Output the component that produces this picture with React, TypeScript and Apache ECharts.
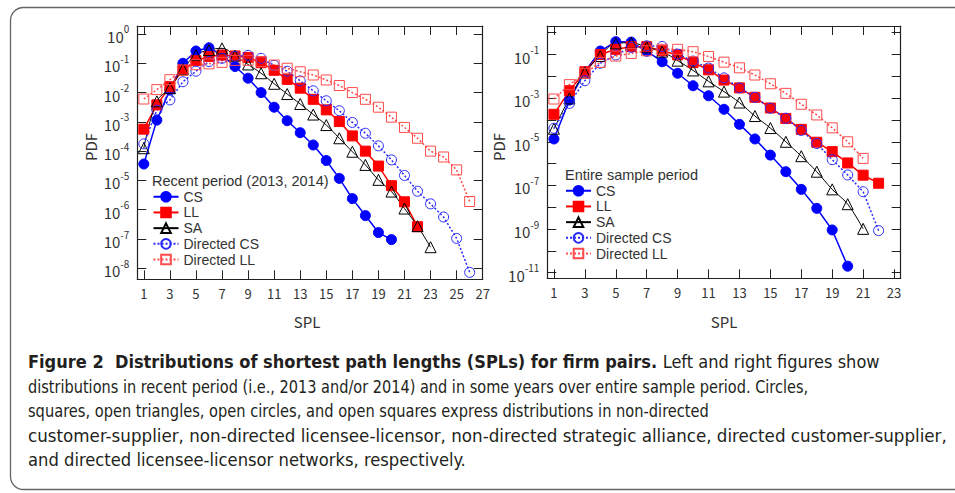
import React, { useEffect, useRef } from "react";
import * as echarts from "echarts";

// ---- data: log10(PDF), SPL = 1, 2, 3, ... ----
const recentCS = [-4.44, -2.94, -1.91, -1.0, -0.58, -0.47, -0.72, -1.11, -1.51, -2.0, -2.5, -2.96, -3.37, -3.79, -4.32, -4.93, -5.62, -6.2, -6.78, -7.02];
const recentLL = [-3.25, -2.42, -1.8, -1.23, -0.91, -0.77, -0.72, -0.75, -0.8, -0.98, -1.24, -1.55, -1.85, -2.23, -2.59, -2.99, -3.48, -4.0, -4.51, -5.18, -5.73, -6.58];
const recentSA = [-3.9, -2.3, -1.85, -1.2, -0.72, -0.55, -0.49, -0.74, -1.04, -1.34, -1.7, -2.05, -2.39, -2.75, -3.11, -3.56, -4.02, -4.47, -4.98, -5.38, -5.96, -6.56, -7.28];
const recentDCS = [-3.75, -2.6, -2.25, -1.63, -1.27, -0.94, -0.83, -0.76, -0.73, -0.83, -1.07, -1.27, -1.6, -1.94, -2.28, -2.62, -3.02, -3.39, -3.82, -4.3, -4.83, -5.37, -5.8, -6.25, -6.98, -8.14];
const recentDLL = [-2.22, -1.9, -1.56, -1.23, -1.05, -1.02, -0.97, -0.9, -0.9, -0.94, -1.06, -1.17, -1.29, -1.4, -1.57, -1.76, -2.0, -2.23, -2.5, -2.84, -3.19, -3.56, -4.0, -4.2, -4.64, -5.72];

const entireCS = [-4.87, -3.09, -1.79, -0.84, -0.41, -0.43, -0.85, -1.33, -1.86, -2.43, -2.89, -3.51, -4.2, -4.87, -5.61, -6.37, -7.18, -8.05, -9.04, -10.7];
const entireLL = [-3.74, -2.66, -1.79, -1.0, -0.76, -0.64, -0.64, -0.83, -1.02, -1.37, -1.7, -2.17, -2.53, -2.96, -3.45, -3.93, -4.43, -5.02, -5.45, -5.97, -6.53, -6.9];
const entireSA = [-4.4, -3.01, -1.83, -1.07, -0.49, -0.46, -0.67, -0.87, -1.28, -1.73, -2.23, -2.7, -3.2, -3.82, -4.37, -5.0, -5.66, -6.37, -7.18, -7.86, -8.99];
const entireDCS = [-4.38, -3.24, -2.2, -1.4, -1.02, -0.67, -0.6, -0.63, -0.98, -1.3, -1.62, -2.07, -2.53, -2.96, -3.46, -3.92, -4.48, -5.08, -5.82, -6.52, -7.29, -9.07];
const entireDLL = [-3.04, -2.38, -1.86, -1.36, -1.07, -0.95, -0.83, -0.76, -0.76, -0.87, -1.09, -1.35, -1.61, -1.94, -2.34, -2.78, -3.28, -3.77, -4.36, -5.0, -5.76];

const seriesNames = ["CS", "LL", "SA", "Directed CS", "Directed LL"];

const leftXTicks = [1, 3, 5, 7, 9, 11, 13, 15, 17, 19, 21, 23, 25, 27];
const rightXTicks = [1, 3, 5, 7, 9, 11, 13, 15, 17, 19, 21, 23];
const leftYTicks = [0, -1, -2, -3, -4, -5, -6, -7, -8];
const leftYLabels = [0, -1, -2, -3, -4, -5, -6, -7, -8];
const rightYTicks = [0, -1, -2, -3, -4, -5, -6, -7, -8, -9, -10, -11];
const rightYLabels = [-1, -3, -5, -7, -9, -11];

const leftTitle = "Recent period (2013, 2014)";
const rightTitle = "Entire sample period";

const captionBold = "Figure 2\u00a0\u00a0Distributions of shortest path lengths (SPLs) for firm pairs.";
const captionLines = [
  " Left and right figures show",
  "distributions in recent period (i.e., 2013 and/or 2014) and in some years over entire sample period. Circles,",
  "squares, open triangles, open circles, and open squares express distributions in non-directed",
  "customer-supplier, non-directed licensee-licensor, non-directed strategic alliance, directed customer-supplier,",
  "and directed licensee-licensor networks, respectively.",
];
const captionEnds = [880, 808, 710, 947, 466];
const captionYs = [362, 386.5, 411, 435.5, 460];

const FONT = '"Noto Sans CJK JP", "Noto Sans", sans-serif';
const LEG_FONT = '"Liberation Sans", Arial, sans-serif';
const CAP_CANDIDATES = ['"DejaVu Sans Condensed"', '"Liberation Sans Narrow"', '"Noto Sans"', '"Open Sans"', "Lato", "Roboto", "Inter", '"Liberation Sans"'];
const TXT = "#333";

const styleOf: Record<string, any> = {
  CS: { symbol: "circle", size: 10, line: "#0000ff", fill: "#0000ff", border: "#0000ff", type: "solid", width: 1.5, smooth: false },
  LL: { symbol: "rect", size: 10, line: "#ff0000", fill: "#ff0000", border: "#ff0000", type: "solid", width: 1.5, smooth: false },
  SA: { symbol: "triangle", size: 11, line: "#000000", fill: "rgba(0,0,0,0)", border: "#000000", type: "solid", width: 1, smooth: 0.4 },
  "Directed CS": { symbol: "circle", size: 10, line: "#2a2aff", fill: "rgba(0,0,0,0)", border: "#2a2aff", type: [2, 2], width: 1.5, smooth: false },
  "Directed LL": { symbol: "rect", size: 10, line: "#ff4b4b", fill: "rgba(0,0,0,0)", border: "#ff4b4b", type: [2, 2], width: 1.5, smooth: false },
};

function makeSeries(name: string, values: number[], axisIndex: number) {
  const s = styleOf[name];
  return {
    type: "line",
    name,
    xAxisIndex: axisIndex,
    yAxisIndex: axisIndex,
    data: values.map((v, i) => [i + 1, v]),
    symbol: s.symbol,
    symbolSize: s.size,
    smooth: s.smooth,
    showAllSymbol: true,
    lineStyle: { color: s.line, width: s.width, type: s.type },
    itemStyle: { color: s.fill, borderColor: s.border, borderWidth: 1 },
    emphasis: { disabled: true },
  };
}

function measure(text: string, font: string) {
  const c = document.createElement("canvas").getContext("2d")!;
  c.font = font;
  return c.measureText(text).width;
}

function supLabel(v: number) {
  return `{b|10}{s|${v}}`;
}

const yRich = {
  b: { fontSize: 15, fontFamily: FONT, color: TXT, lineHeight: 20, verticalAlign: "bottom" },
  s: { fontSize: 10, fontFamily: FONT, color: TXT, lineHeight: 20, verticalAlign: "top" },
};

function xAxesFor(gi: number, min: number, max: number, ticks: number[]) {
  const common = {
    type: "value",
    gridIndex: gi,
    min,
    max,
    splitLine: { show: false },
    axisLine: { show: true, onZero: false, lineStyle: { color: "#222", width: 1.2 } },
  };
  return [
    {
      ...common,
      position: "bottom",
      axisTick: { show: true, inside: true, length: 9, customValues: ticks, lineStyle: { color: "#222", width: 1 } },
      axisLabel: { show: true, customValues: ticks, margin: 8, fontSize: 13, fontFamily: FONT, color: TXT },
    },
    {
      ...common,
      position: "top",
      axisTick: { show: true, inside: true, length: 9, customValues: ticks, lineStyle: { color: "#222", width: 1 } },
      axisLabel: { show: false },
    },
  ];
}

function yAxesFor(gi: number, min: number, max: number, ticks: number[], labels: number[]) {
  const common = {
    type: "value",
    gridIndex: gi,
    min,
    max,
    splitLine: { show: false },
    axisLine: { show: true, onZero: false, lineStyle: { color: "#222", width: 1.2 } },
  };
  return [
    {
      ...common,
      position: "left",
      axisTick: { show: true, inside: true, length: 9, customValues: ticks, lineStyle: { color: "#222", width: 1 } },
      axisLabel: { show: true, customValues: labels, margin: 8, formatter: supLabel, rich: yRich },
    },
    {
      ...common,
      position: "right",
      axisTick: { show: true, inside: true, length: 9, customValues: ticks, lineStyle: { color: "#222", width: 1 } },
      axisLabel: { show: false },
    },
  ];
}

export default function App() {
  const ref = useRef<HTMLDivElement>(null);
  useEffect(() => {
    if (!ref.current) return;
    const chart = echarts.init(ref.current, null, { renderer: "svg", width: 955, height: 493 });

    const CAP_SIZE = 17.5;
    const capColor = "#231f20";

    const lineWidth = (i: number, fam: string) => {
      const f = `${CAP_SIZE}px ${fam}, sans-serif`;
      if (i === 0) return measure(captionBold, `bold ${f}`) + measure(captionLines[0], f);
      return measure(captionLines[i], f);
    };

    // choose the installed family whose relative line widths best match the reference
    let best = CAP_CANDIDATES[2];
    let bestSpread = Infinity;
    for (const fam of CAP_CANDIDATES) {
      const sc = captionLines.map((_, i) => (captionEnds[i] - 28) / Math.max(1, lineWidth(i, fam)));
      const spread = Math.max(...sc) / Math.min(...sc);
      if (spread < bestSpread) {
        bestSpread = spread;
        best = fam;
      }
    }
    const famStr = `${best}, sans-serif`;

    const captionEls: any[] = captionLines.map((line, i) => {
      const w = lineWidth(i, best);
      const s = w > 0 ? (captionEnds[i] - 28) / w : 0.85;
      const text = i === 0 ? `{b|${captionBold}}{n|${line}}` : `{n|${line}}`;
      return {
        type: "text",
        x: 28,
        y: captionYs[i],
        scaleX: s,
        style: {
          text,
          align: "left",
          verticalAlign: "middle",
          rich: {
            b: { fontSize: CAP_SIZE, fontWeight: "bold", fontFamily: famStr, fill: capColor },
            n: { fontSize: CAP_SIZE, fontFamily: famStr, fill: capColor },
          },
        },
      };
    });

    const legendCommon = {
      orient: "vertical",
      itemWidth: 25,
      itemHeight: 12,
      itemGap: 0,
      padding: 0,
      selectedMode: false,
      data: seriesNames,
      textStyle: { fontSize: 14, lineHeight: 15.7, color: TXT, fontFamily: LEG_FONT },
    };

    const option: any = {
      animation: false,
      backgroundColor: "#ffffff",
      grid: [
        { left: 137.3, top: 26, width: 345.4, height: 253.3, outerBoundsMode: "none", containLabel: false },
        { left: 547.3, top: 26, width: 353.4, height: 252.3, outerBoundsMode: "none", containLabel: false },
      ],
      xAxis: [...xAxesFor(0, 0.5, 27, leftXTicks), ...xAxesFor(1, 0.57, 23.43, rightXTicks)],
      yAxis: [...yAxesFor(0, -8.376, 0.273, leftYTicks, leftYLabels), ...yAxesFor(1, -11.256, 0.307, rightYTicks, rightYLabels)],
      legend: [
        { ...legendCommon, left: 152.5, top: 188.9 },
        { ...legendCommon, left: 565, top: 182.9 },
      ],
      series: [
        makeSeries("CS", recentCS, 0),
        makeSeries("LL", recentLL, 0),
        makeSeries("SA", recentSA, 0),
        makeSeries("Directed CS", recentDCS, 0),
        makeSeries("Directed LL", recentDLL, 0),
        makeSeries("CS", entireCS, 2),
        makeSeries("LL", entireLL, 2),
        makeSeries("SA", entireSA, 2),
        makeSeries("Directed CS", entireDCS, 2),
        makeSeries("Directed LL", entireDLL, 2),
      ],
      graphic: [
        {
          type: "rect",
          shape: { x: 10.5, y: 7.5, width: 970, height: 482, r: 13 },
          style: { fill: "none", stroke: "#666", lineWidth: 1.3 },
          silent: true,
        },
        { type: "text", x: 90, y: 147, rotation: Math.PI / 2, style: { text: "PDF", font: `15px ${FONT}`, fill: TXT, align: "center", verticalAlign: "middle" } },
        { type: "text", x: 498, y: 147, rotation: Math.PI / 2, style: { text: "PDF", font: `15px ${FONT}`, fill: TXT, align: "center", verticalAlign: "middle" } },
        { type: "text", x: 307, y: 321, style: { text: "SPL", font: `15px ${FONT}`, fill: TXT, align: "center", verticalAlign: "middle" } },
        { type: "text", x: 724, y: 321, style: { text: "SPL", font: `15px ${FONT}`, fill: TXT, align: "center", verticalAlign: "middle" } },
        { type: "text", x: 152, y: 180.7, style: { text: leftTitle, font: `14.5px ${LEG_FONT}`, fill: TXT, align: "left", verticalAlign: "middle" } },
        { type: "text", x: 565, y: 175, style: { text: rightTitle, font: `14.5px ${LEG_FONT}`, fill: TXT, align: "left", verticalAlign: "middle" } },
        ...captionEls,
      ],
    };
    chart.setOption(option);
    return () => chart.dispose();
  }, []);
  return <div ref={ref} style={{ position: "absolute", left: 0, top: 0, width: 955, height: 493, background: "#fff" }} />;
}
